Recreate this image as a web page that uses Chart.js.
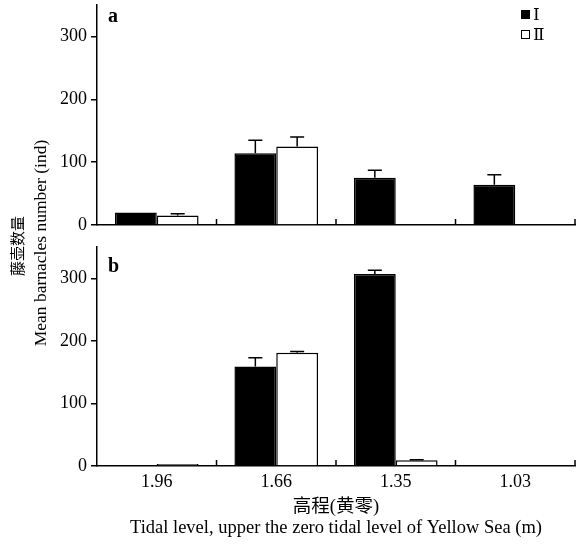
<!DOCTYPE html>
<html>
<head>
<meta charset="utf-8">
<script src="https://cdn.jsdelivr.net/npm/chart.js"></script>
<style>
  body { margin: 0; background: #fff; font-family: 'Liberation Serif', 'Noto Sans CJK SC', serif; color: #000; }
  #wrap { position: relative; width: 576px; height: 545px; overflow: hidden; }
  .box { position: absolute; left: 0; width: 576px; }
  .ytitle { position: absolute; width: 320px; text-align: center; line-height: 20px; transform: rotate(-90deg); white-space: nowrap; }
  .panel { position: absolute; font-weight: bold; font-size: 20px; }
  .leg { position: absolute; left: 521px; font-size: 17px; line-height: 18px; white-space: nowrap; font-family: 'DejaVu Serif', 'Liberation Serif', serif; }
  .sq { display: inline-block; width: 9px; height: 9px; border: 1.5px solid #000; margin-right: 3px; vertical-align: 1px; box-sizing: border-box; }
</style>
</head>
<body>
<div id="wrap">
  <div class="box" style="top:0;height:235px"><canvas id="chartA"></canvas></div>
  <div class="box" style="top:235px;height:310px"><canvas id="chartB"></canvas></div>
  <div class="ytitle" style="left:-142px;top:236px;font-size:15px">藤壶数量</div>
  <div class="ytitle" style="left:-120px;top:233px;font-size:17.5px">Mean barnacles number (ind)</div>
  <div class="panel" style="left:108px;top:4px">a</div>
  <div class="panel" style="left:108px;top:254px">b</div>
  <div class="leg" style="top:5px"><span class="sq" style="background:#000"></span>Ⅰ</div>
  <div class="leg" style="top:25px"><span class="sq" style="background:#fff"></span>Ⅱ</div>
</div>
<script>
const levels = ['1.96', '1.66', '1.35', '1.03'];
const yTicks = [0, 100, 200, 300];

// panel a
const aSeries1 = [20, 114, 75, 64];
const aSeries1Err = [0, 21, 12, 16];
const aSeries2 = [15, 125, null, null];
const aSeries2Err = [3, 15, 0, 0];

// panel b
const bSeries1 = [null, 159, 307, null];
const bSeries1Err = [0, 14, 6, 0];
const bSeries2 = [3, 181, 9, null];
const bSeries2Err = [0, 2, 1, 0];

const FONT = { family: "'Liberation Serif', 'Noto Sans CJK SC', serif", size: 18 };

// upward error bars with caps
const errorBars = {
  id: 'errorBars',
  afterDatasetsDraw(chart) {
    const ctx = chart.ctx;
    const y = chart.scales.y;
    ctx.save();
    ctx.strokeStyle = '#000';
    ctx.lineWidth = 1.5;
    chart.data.datasets.forEach((ds, di) => {
      const meta = chart.getDatasetMeta(di);
      ds.errors.forEach((e, i) => {
        const v = ds.data[i];
        if (v == null || !e) return;
        const bar = meta.data[i];
        const top = y.getPixelForValue(v + e);
        ctx.beginPath();
        ctx.moveTo(bar.x, bar.y);
        ctx.lineTo(bar.x, top);
        ctx.moveTo(bar.x - 7, top);
        ctx.lineTo(bar.x + 7, top);
        ctx.stroke();
      });
    });
    ctx.restore();
  }
};

// small upward ticks on the category boundaries
const catTicks = {
  id: 'catTicks',
  afterDraw(chart) {
    const ctx = chart.ctx;
    const x = chart.scales.x;
    const base = chart.chartArea.bottom;
    ctx.save();
    ctx.strokeStyle = '#000';
    ctx.lineWidth = 1.5;
    for (let i = 0; i < levels.length; i++) {
      const px = x.getPixelForValue(i + 0.5);
      ctx.beginPath();
      ctx.moveTo(px, base);
      ctx.lineTo(px, base - 6);
      ctx.stroke();
    }
    ctx.restore();
  }
};

function makeChart(id, s1, e1, s2, e2, showLabels, padTop, xHeight) {
  const xScale = {
    grid: { display: false, drawTicks: false, tickLength: 0 },
    border: { display: true, color: '#000', width: 1.5 },
    ticks: { display: showLabels, color: '#000', font: FONT, padding: 5, maxRotation: 0 },
    afterFit: s => { s.height = xHeight; s.paddingLeft = 0; s.paddingRight = 0; }
  };
  if (showLabels) {
    xScale.title = {
      display: true,
      text: ['高程(黄零)', 'Tidal level, upper the zero tidal level of Yellow Sea (m)'],
      color: '#000',
      font: { ...FONT, size: 18.5, lineHeight: 1.1 },
      padding: { top: 0, bottom: 7 }
    };
  }
  return new Chart(document.getElementById(id), {
    type: 'bar',
    data: {
      labels: levels,
      datasets: [
        { label: 'Ⅰ', data: s1, errors: e1, backgroundColor: '#000', borderColor: '#000', borderWidth: 1.5 },
        { label: 'Ⅱ', data: s2, errors: e2, backgroundColor: '#fff', borderColor: '#000', borderWidth: 1.5 }
      ]
    },
    options: {
      responsive: true,
      maintainAspectRatio: false,
      animation: false,
      layout: { padding: { top: padTop, right: 1, left: 0, bottom: 0 } },
      datasets: { bar: { barPercentage: 1, categoryPercentage: 0.7 } },
      plugins: { legend: { display: false }, tooltip: { enabled: false } },
      scales: {
        x: xScale,
        y: {
          min: 0,
          max: 350,
          afterFit: s => { s.width = 97; s.paddingTop = 0; s.paddingBottom = 0; },
          afterBuildTicks: s => { s.ticks = yTicks.map(v => ({ value: v })); },
          ticks: { color: '#000', font: FONT, padding: 4 },
          grid: { drawOnChartArea: false, drawTicks: true, tickLength: 6, color: '#000', lineWidth: 1.5 },
          border: { display: true, color: '#000', width: 1.5 }
        }
      }
    },
    plugins: [errorBars, catTicks]
  });
}

makeChart('chartA', aSeries1, aSeries1Err, aSeries2, aSeries2Err, false, 5, 10);
makeChart('chartB', bSeries1, bSeries1Err, bSeries2, bSeries2Err, true, 12, 79);
</script>
</body>
</html>
